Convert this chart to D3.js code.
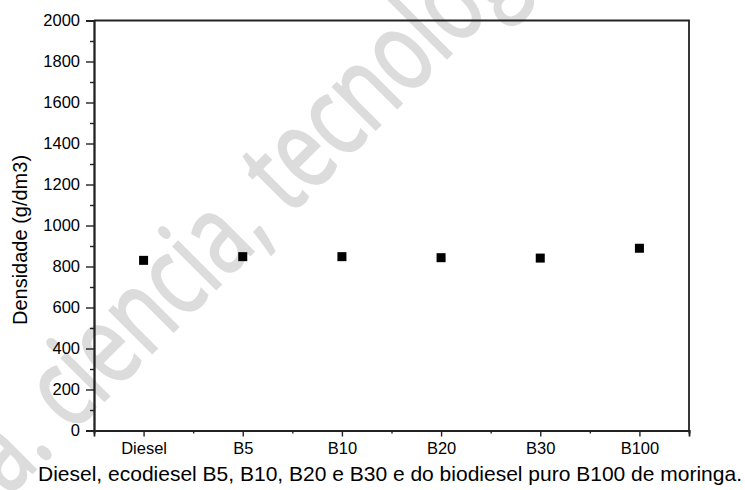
<!DOCTYPE html>
<html>
<head>
<meta charset="utf-8">
<script src="https://cdn.jsdelivr.net/npm/d3@7"></script>
<style>
  body { margin: 0; background: #fff; }
  svg { display: block; font-family: "Liberation Sans", Arial, sans-serif; }
</style>
</head>
<body>
<svg id="chart" width="745" height="490"></svg>
<script>
// density per fuel blend
const categories = ['Diesel', 'B5', 'B10', 'B20', 'B30', 'B100'];
const densidade = [830, 848, 848, 843, 841, 889];
const yTicks = [0, 200, 400, 600, 800, 1000, 1200, 1400, 1600, 1800, 2000];

const svg = d3.select('#chart');
const plotLeft = 94, plotRight = 689, plotTop = 20.5, plotBottom = 430.5;

// watermark behind everything
svg.append('text')
    .attr('transform', 'translate(8, 497) rotate(-45) scale(0.74, 1)')
    .attr('fill', '#dcdcdc')
    .attr('stroke', '#dcdcdc')
    .attr('stroke-width', 2.5)
    .style('font-family', '"Open Sans", "Liberation Sans", sans-serif')
    .style('font-size', '112px')
    .text('a. ciencia, tecnologia');

let x = d3.scaleLinear().domain([0.5, categories.length + 0.5]).range([plotLeft, plotRight]);
let y = d3.scaleLinear().domain([0, 2000]).range([plotBottom, plotTop]);

// frame top / right
svg.append('path')
    .attr('d', `M${plotLeft},${plotTop}H${plotRight}V${plotBottom}`)
    .attr('fill', 'none')
    .attr('stroke', '#222')
    .attr('stroke-width', 1.8);

// y axis
let yAxis = d3.axisLeft(y).tickValues(yTicks).tickFormat(d3.format('d')).tickSize(8).tickPadding(6);
svg.append('g')
    .attr('transform', `translate(${plotLeft}, 0)`)
    .call(yAxis);

let yMinor = d3.axisLeft(y).tickValues(d3.range(100, 2000, 200)).tickSize(4).tickFormat('');
svg.append('g')
    .attr('transform', `translate(${plotLeft}, 0)`)
    .call(yMinor);

// x axis
let xAxis = d3.axisBottom(x).tickValues(categories.map((d, i) => i + 1))
    .tickFormat((d) => categories[d - 1]).tickSize(6).tickPadding(6);
svg.append('g')
    .attr('transform', `translate(0, ${plotBottom})`)
    .call(xAxis);

let xMinor = d3.axisBottom(x).tickValues(d3.range(0.5, categories.length + 1, 1)).tickSize(3).tickFormat('');
svg.append('g')
    .attr('transform', `translate(0, ${plotBottom})`)
    .call(xMinor);

svg.selectAll('.domain').attr('stroke', '#222').attr('stroke-width', 1.8);
svg.selectAll('.tick line').attr('stroke', '#222').attr('stroke-width', 1.4);
svg.selectAll('.tick text')
    .attr('fill', '#000')
    .style('font-family', '"Liberation Sans", Arial, sans-serif')
    .style('font-size', '16.5px');

// points
svg.append('g')
    .selectAll('rect')
    .data(densidade)
    .enter()
        .append('rect')
        .attr('x', (d, i) => x(i + 1) - 4.5)
        .attr('y', d => y(d) - 4.5)
        .attr('width', 9)
        .attr('height', 9)
        .attr('fill', '#000');

// y label
svg.append('text')
    .attr('transform', `translate(20, 240) rotate(-90)`)
    .attr('text-anchor', 'middle')
    .attr('dy', '0.35em')
    .style('font-size', '20px')
    .attr('fill', '#000')
    .text('Densidade (g/dm3)');

// caption
svg.append('text')
    .attr('x', 390)
    .attr('y', 481)
    .attr('text-anchor', 'middle')
    .style('font-size', '21px')
    .attr('fill', '#000')
    .text('Diesel, ecodiesel B5, B10, B20 e B30 e do biodiesel puro B100 de moringa.');
</script>
</body>
</html>
